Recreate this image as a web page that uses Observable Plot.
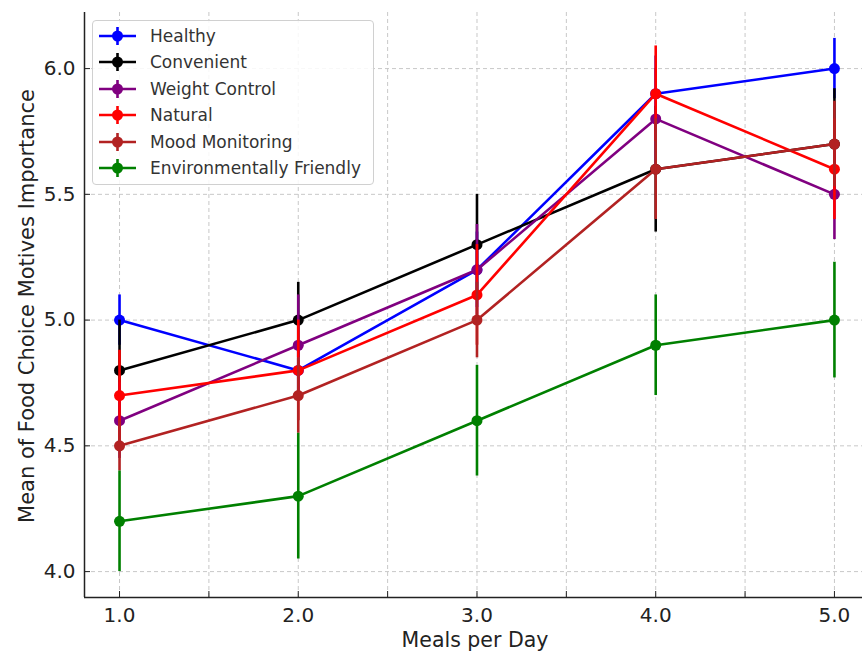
<!DOCTYPE html>
<html>
<head>
<meta charset="utf-8">
<script src="https://cdn.jsdelivr.net/npm/d3@7"></script>
<script src="https://cdn.jsdelivr.net/npm/@observablehq/plot@0.6"></script>
<style>
  body { margin: 0; background: #fff; font-family: "DejaVu Sans", sans-serif; }
  #wrap { position: relative; width: 862px; height: 654px; overflow: hidden; }
  #chart { position: absolute; left: 0; top: 0; }
  .axlabel { position: absolute; font-size: 20.5px; line-height: 20px; color: #222; white-space: nowrap; }
  #ylabel { font-size: 21px; }
  #legend { position: absolute; left: 92px; top: 20px; width: 282px; height: 165px; border: 1px solid #d0d0d0;
            border-radius: 4px; background: rgba(255,255,255,0.85); box-sizing: border-box; }
  .item { position: absolute; left: 0; height: 20px; display: flex; align-items: center; font-size: 17px; color: #333; }
  .item svg { margin-left: 5px; margin-right: 13px; }
</style>
</head>
<body>
<div id="wrap">
  <div id="chart"></div>
  <div id="legend"></div>
  <div class="axlabel" id="xlabel"></div>
  <div class="axlabel" id="ylabel"></div>
</div>
<script>
// ---- data ----
const meals = [1, 2, 3, 4, 5];
const seriesNames = ["Healthy", "Convenient", "Weight Control", "Natural", "Mood Monitoring", "Environmentally Friendly"];
const seriesColors = ["#0000ff", "#000000", "#800080", "#ff0000", "#b22222", "#008000"];

const healthyMean = [5.0, 4.8, 5.2, 5.9, 6.0];
const healthyErr  = [0.10, 0.10, 0.15, 0.15, 0.12];
const convenientMean = [4.8, 5.0, 5.3, 5.6, 5.7];
const convenientErr  = [0.20, 0.15, 0.20, 0.25, 0.22];
const weightMean = [4.6, 4.9, 5.2, 5.8, 5.5];
const weightErr  = [0.15, 0.20, 0.18, 0.20, 0.18];
const naturalMean = [4.7, 4.8, 5.1, 5.9, 5.6];
const naturalErr  = [0.18, 0.20, 0.20, 0.19, 0.20];
const moodMean = [4.5, 4.7, 5.0, 5.6, 5.7];
const moodErr  = [0.10, 0.15, 0.15, 0.20, 0.17];
const envMean = [4.2, 4.3, 4.6, 4.9, 5.0];
const envErr  = [0.20, 0.25, 0.22, 0.20, 0.23];

const xTicksMajor = [1, 2, 3, 4, 5];
const xTicksAll = [1, 1.5, 2, 2.5, 3, 3.5, 4, 4.5, 5];
const yTicks = [4.0, 4.5, 5.0, 5.5, 6.0];
const xTitle = "Meals per Day";
const yTitle = "Mean of Food Choice Motives Importance";

// ---- build table ----
const means = [healthyMean, convenientMean, weightMean, naturalMean, moodMean, envMean];
const errs = [healthyErr, convenientErr, weightErr, naturalErr, moodErr, envErr];
const rows = [];
seriesNames.forEach((s, i) => meals.forEach((m, j) => rows.push({series: s, meal: m, mean: means[i][j], err: errs[i][j]})));

const xDomain = [0.804, 5.157];
const yDomain = [3.897, 6.223];

const marks = [
  Plot.gridX({ticks: xTicksAll, stroke: "#c8c8c8", strokeOpacity: 1, strokeDasharray: "4,3"}),
  Plot.gridY({ticks: yTicks, stroke: "#c8c8c8", strokeOpacity: 1, strokeDasharray: "4,3"}),
];
seriesNames.forEach((s, i) => {
  const d = rows.filter(r => r.series === s);
  const c = seriesColors[i];
  marks.push(
    Plot.line(d, {x: "meal", y: "mean", stroke: c, strokeWidth: 2.6}),
    Plot.ruleX(d, {x: "meal", y1: r => r.mean - r.err, y2: r => r.mean + r.err, stroke: c, strokeWidth: 2.6}),
    Plot.dot(d, {x: "meal", y: "mean", r: 5.5, fill: c, stroke: "none"})
  );
});
marks.push(
  Plot.ruleX([xDomain[0]], {stroke: "#222", strokeWidth: 1.5}),
  Plot.ruleY([yDomain[0]], {stroke: "#222", strokeWidth: 1.5}),
  Plot.axisX({ticks: xTicksAll, tickSize: -6, tickFormat: () => "", label: null, stroke: "#222"}),
  Plot.axisY({ticks: yTicks, tickSize: -6, tickFormat: () => "", label: null, stroke: "#222"}),
  Plot.axisX({ticks: xTicksMajor, tickSize: 0, tickPadding: 10, tickFormat: d => d.toFixed(1), fontSize: 20, fill: "#222", label: null}),
  Plot.axisY({ticks: yTicks, tickSize: 0, tickPadding: 9, tickFormat: d => d.toFixed(1), fontSize: 20, fill: "#222", label: null})
);

const chart = Plot.plot({
  width: 862,
  height: 654,
  marginLeft: 84,
  marginRight: 0,
  marginTop: 12,
  marginBottom: 57,
  style: {fontFamily: "DejaVu Sans, sans-serif", background: "#fff"},
  x: {domain: xDomain},
  y: {domain: yDomain},
  marks
});
document.getElementById("chart").appendChild(chart);

// axis titles
const xl = document.getElementById("xlabel");
xl.textContent = xTitle;
xl.style.left = "475px"; xl.style.top = "630px"; xl.style.transform = "translateX(-50%)";
const yl = document.getElementById("ylabel");
yl.textContent = yTitle;
yl.style.left = "27px"; yl.style.top = "306px"; yl.style.transform = "translate(-50%,-50%) rotate(-90deg)";

// legend
const leg = document.getElementById("legend");
seriesNames.forEach((s, i) => {
  const c = seriesColors[i];
  const item = document.createElement("div");
  item.className = "item";
  item.style.top = (5 + i * 26.4) + "px";
  item.innerHTML = `<svg width="39" height="20"><line x1="1" y1="10" x2="38" y2="10" stroke="${c}" stroke-width="2.6"/>` +
    `<line x1="19.5" y1="1" x2="19.5" y2="19" stroke="${c}" stroke-width="2.6"/>` +
    `<circle cx="19.5" cy="10" r="5.5" fill="${c}"/></svg><span>${s}</span>`;
  leg.appendChild(item);
});
</script>
</body>
</html>
